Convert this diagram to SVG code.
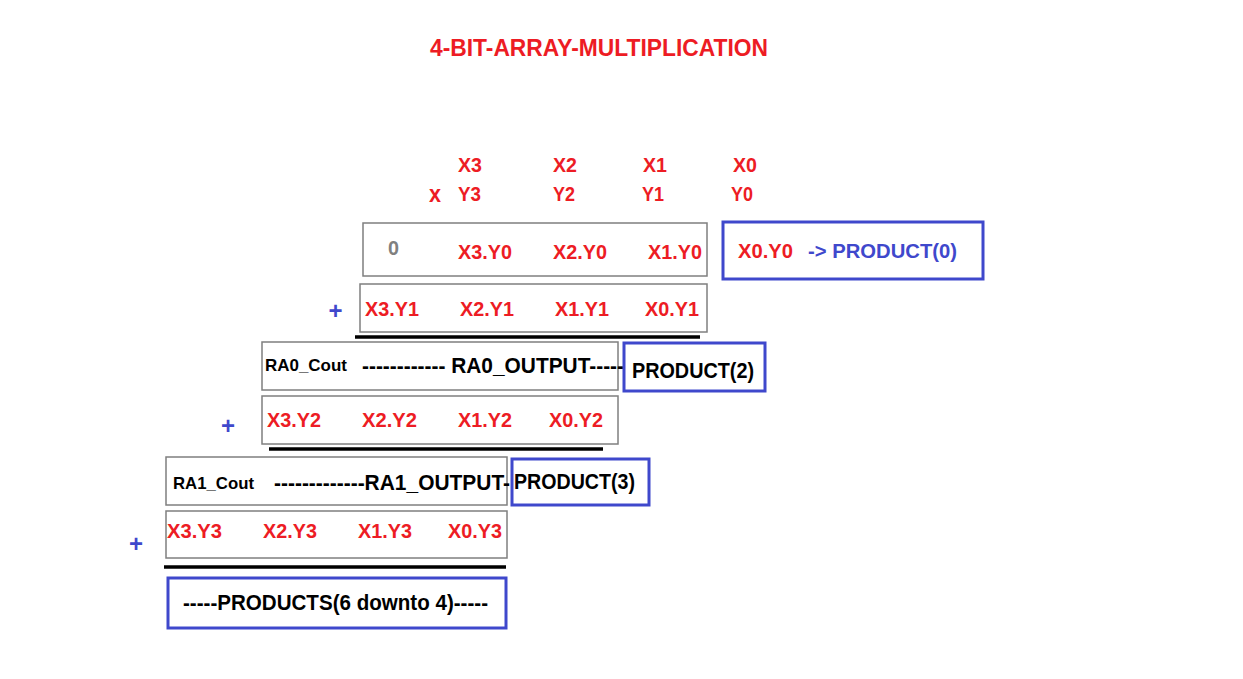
<svg xmlns="http://www.w3.org/2000/svg" width="1243" height="679" viewBox="0 0 1243 679">
<style>
text{font-family:"Liberation Sans",Arial,sans-serif;font-weight:bold}
.r{fill:#ed1c24;font-size:21px}
.h{fill:#ed1c24;font-size:20px}
.k{fill:#000;font-size:22px}
.s{fill:#000;font-size:17px}
.b{fill:#3f48cc;font-size:21px}
.p{fill:#3f48cc;font-size:24px}
.g{fill:none;stroke:#7f7f7f;stroke-width:1.5}
.bb{fill:none;stroke:#3f48cc;stroke-width:3}
.ln{stroke:#000;stroke-width:3.5}
</style>
<rect width="1243" height="679" fill="#fff"/>
<text id="title" x="430" y="56" fill="#ed1c24" style="font-size:24px" textLength="338" lengthAdjust="spacingAndGlyphs">4-BIT-ARRAY-MULTIPLICATION</text>

<g id="header">
<text class="h" x="458" y="172" textLength="24" lengthAdjust="spacingAndGlyphs">X3</text>
<text class="h" x="553" y="172" textLength="24" lengthAdjust="spacingAndGlyphs">X2</text>
<text class="h" x="643" y="172" textLength="24" lengthAdjust="spacingAndGlyphs">X1</text>
<text class="h" x="733" y="172" textLength="24" lengthAdjust="spacingAndGlyphs">X0</text>
<text class="h" x="429" y="202" style="font-size:24px" textLength="12" lengthAdjust="spacingAndGlyphs">x</text>
<text class="h" x="458" y="201" textLength="23" lengthAdjust="spacingAndGlyphs">Y3</text>
<text class="h" x="553" y="201" textLength="22" lengthAdjust="spacingAndGlyphs">Y2</text>
<text class="h" x="642" y="201" textLength="22" lengthAdjust="spacingAndGlyphs">Y1</text>
<text class="h" x="731" y="201" textLength="22" lengthAdjust="spacingAndGlyphs">Y0</text>
</g>

<g id="row0">
<rect class="g" x="363" y="223" width="344" height="53"/>
<text x="388" y="255" style="fill:#808080;font-size:21px" textLength="11" lengthAdjust="spacingAndGlyphs">0</text>
<text class="r" x="458" y="259" textLength="54" lengthAdjust="spacingAndGlyphs">X3.Y0</text>
<text class="r" x="553" y="259" textLength="54" lengthAdjust="spacingAndGlyphs">X2.Y0</text>
<text class="r" x="648" y="259" textLength="54" lengthAdjust="spacingAndGlyphs">X1.Y0</text>
</g>

<g id="product0">
<rect class="bb" x="723" y="222" width="260" height="57"/>
<text class="r" x="738" y="258" textLength="55" lengthAdjust="spacingAndGlyphs">X0.Y0</text>
<text class="b" x="808" y="258" textLength="149" lengthAdjust="spacingAndGlyphs">-&gt; PRODUCT(0)</text>
</g>

<g id="row1">
<text class="p" x="335.5" y="319" text-anchor="middle">+</text>
<rect class="g" x="360" y="284" width="347" height="48"/>
<text class="r" x="365" y="316" textLength="54" lengthAdjust="spacingAndGlyphs">X3.Y1</text>
<text class="r" x="460" y="316" textLength="54" lengthAdjust="spacingAndGlyphs">X2.Y1</text>
<text class="r" x="555" y="316" textLength="54" lengthAdjust="spacingAndGlyphs">X1.Y1</text>
<text class="r" x="645" y="316" textLength="54" lengthAdjust="spacingAndGlyphs">X0.Y1</text>
</g>

<g id="ra0">
<rect class="g" x="262" y="342" width="356" height="48"/>
<text class="s" x="265" y="371" textLength="82" lengthAdjust="spacingAndGlyphs">RA0_Cout</text>
<text class="k" x="362" y="373" textLength="262" lengthAdjust="spacingAndGlyphs">------------ RA0_OUTPUT-----</text>
</g>

<g id="product2">
<rect class="bb" x="624" y="343" width="141" height="48"/>
<text class="k" x="632" y="378" textLength="122" lengthAdjust="spacingAndGlyphs">PRODUCT(2)</text>
</g>

<g id="row2">
<text class="p" x="228" y="434" text-anchor="middle">+</text>
<rect class="g" x="262" y="396" width="356" height="48"/>
<text class="r" x="267" y="427" textLength="54" lengthAdjust="spacingAndGlyphs">X3.Y2</text>
<text class="r" x="362" y="427" textLength="55" lengthAdjust="spacingAndGlyphs">X2.Y2</text>
<text class="r" x="458" y="427" textLength="54" lengthAdjust="spacingAndGlyphs">X1.Y2</text>
<text class="r" x="549" y="427" textLength="54" lengthAdjust="spacingAndGlyphs">X0.Y2</text>
</g>

<g id="ra1">
<rect class="g" x="166" y="457" width="341" height="48"/>
<text class="s" x="173" y="489" textLength="81" lengthAdjust="spacingAndGlyphs">RA1_Cout</text>
<text class="k" x="274" y="490" textLength="236" lengthAdjust="spacingAndGlyphs">-------------RA1_OUTPUT-</text>
</g>

<g id="product3">
<rect class="bb" x="512" y="459" width="137" height="46"/>
<text class="k" x="514" y="489" textLength="121" lengthAdjust="spacingAndGlyphs">PRODUCT(3)</text>
</g>

<g id="row3">
<text class="p" x="136" y="552" text-anchor="middle">+</text>
<rect class="g" x="166" y="511" width="341" height="47"/>
<text class="r" x="167" y="538" textLength="55" lengthAdjust="spacingAndGlyphs">X3.Y3</text>
<text class="r" x="263" y="538" textLength="54" lengthAdjust="spacingAndGlyphs">X2.Y3</text>
<text class="r" x="358" y="538" textLength="54" lengthAdjust="spacingAndGlyphs">X1.Y3</text>
<text class="r" x="448" y="538" textLength="54" lengthAdjust="spacingAndGlyphs">X0.Y3</text>
</g>

<g id="products">
<rect class="bb" x="168" y="578" width="338" height="50"/>
<text class="k" x="183" y="610" textLength="305" lengthAdjust="spacingAndGlyphs">-----PRODUCTS(6 downto 4)-----</text>
</g>

<g id="connectors">
<line class="ln" x1="355" y1="337" x2="700" y2="337"/>
<line class="ln" x1="269" y1="449" x2="603" y2="449"/>
<line class="ln" x1="164" y1="567" x2="506" y2="567"/>
</g>
</svg>
